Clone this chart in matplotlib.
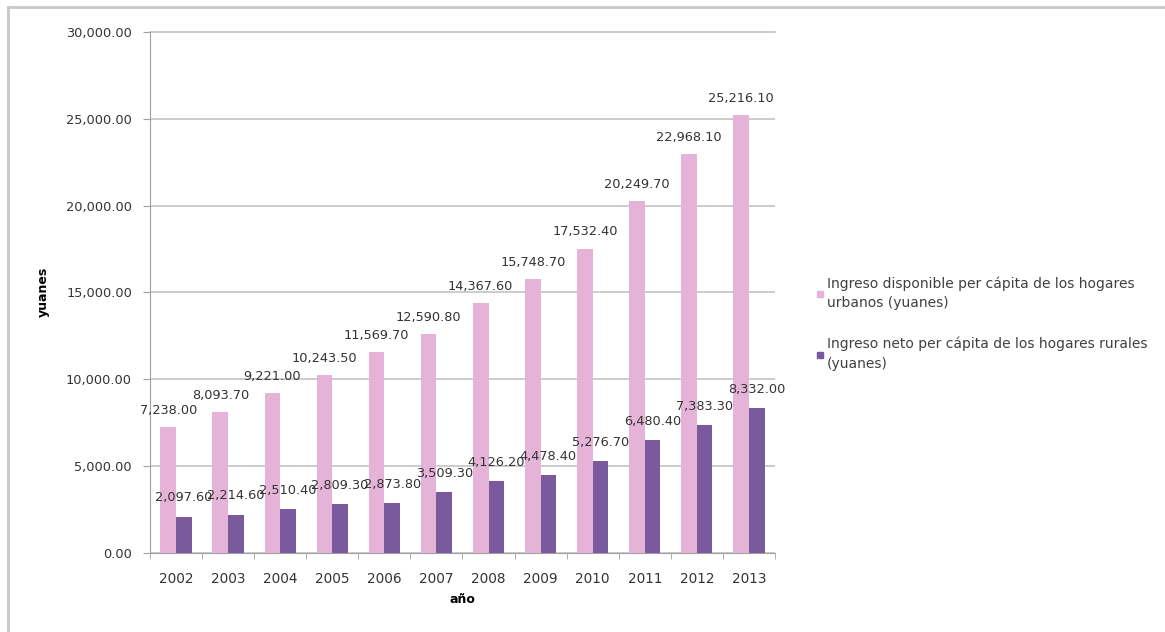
import matplotlib
matplotlib.use("Agg")
import matplotlib.pyplot as plt
from matplotlib.lines import Line2D
from matplotlib.ticker import FuncFormatter
import numpy as np

years = ["2002", "2003", "2004", "2005", "2006", "2007", "2008", "2009", "2010", "2011", "2012", "2013"]
urbano = [7238.0, 8093.7, 9221.0, 10243.5, 11569.7, 12590.8, 14367.6, 15748.7, 17532.4, 20249.7, 22968.1, 25216.1]
rural = [2097.6, 2214.6, 2510.4, 2809.3, 2873.8, 3509.3, 4126.2, 4478.4, 5276.7, 6480.4, 7383.3, 8332.0]
labels = ["Ingreso disponible per cápita de los hogares\nurbanos (yuanes)",
          "Ingreso neto per cápita de los hogares rurales\n(yuanes)"]

plt.rcParams['font.family'] = ['DejaVu Sans']
W, H = 1165, 632
fig = plt.figure(figsize=(W / 100, H / 100), dpi=100)
ax = fig.add_axes([150 / W, 1 - 553 / H, (775 - 150) / W, (553 - 32) / H])

pink = "#E6B3D8"
purple = "#7A5A9C"
txt = "#333333"
x = np.arange(len(years))
bw = 0.3
ax.bar(x - bw / 2, urbano, width=bw, color=pink, zorder=3)
ax.bar(x + bw / 2, rural, width=bw, color=purple, zorder=3)

fmt = lambda v: f"{v:,.2f}"
for xi, v in zip(x - bw / 2, urbano):
    ax.annotate(fmt(v), (xi, v), xytext=(0, 12), textcoords="offset points",
                ha="center", va="center", fontsize=9.3, color=txt, zorder=5)
for xi, v in zip(x + bw / 2, rural):
    ax.annotate(fmt(v), (xi, v), xytext=(0, 13.5), textcoords="offset points",
                ha="center", va="center", fontsize=9.3, color=txt, zorder=5)

ax.set_xlim(-0.5, len(years) - 0.5)
ax.set_ylim(0, 30000)
ax.set_yticks(np.arange(0, 30001, 5000))
ax.yaxis.set_major_formatter(FuncFormatter(lambda v, p: f"{v:,.2f}"))
ax.set_xticks(x)
ax.set_xticklabels(years)
ax.set_xticks(np.arange(-0.5, len(years), 1), minor=True)
ax.tick_params(axis="x", which="major", length=0, labelsize=9.8, colors=txt, pad=14)
ax.tick_params(axis="x", which="minor", length=4, color="#A0A0A0", direction="out")
ax.tick_params(axis="y", length=5, color="#A0A0A0", labelsize=9.3, labelcolor=txt, pad=8)
ax.grid(axis="y", color="#C4C4C4", linewidth=1.2, zorder=0)
ax.get_ygridlines()[-1].set_clip_on(False)
for s in ["top", "right"]:
    ax.spines[s].set_visible(False)
ax.spines["left"].set_color("#A0A0A0")
ax.spines["bottom"].set_color("#A0A0A0")

ax.set_xlabel("año", fontsize=9, fontweight="bold", labelpad=5)
fig.text(43 / W, 1 - 292 / H, "yuanes", rotation=90, ha="center", va="center",
         fontsize=9, fontweight="bold")

handles = [Line2D([], [], marker="s", color=pink, linestyle="none", markersize=5),
           Line2D([], [], marker="s", color=purple, linestyle="none", markersize=5)]
leg = fig.legend(handles, labels, loc="upper left", bbox_to_anchor=(803 / W, 1 - 264 / H),
                 frameon=False, fontsize=10, handlelength=0.6, handletextpad=0.2,
                 labelspacing=1.9, labelcolor="#404040")
for t in leg.get_texts():
    t.set_linespacing(1.5)

fig.add_artist(Line2D([8 / W, 1], [1 - 7 / H, 1 - 7 / H], color="#C8C8C8", linewidth=2))
fig.add_artist(Line2D([8 / W, 8 / W], [0, 1 - 7 / H], color="#C8C8C8", linewidth=2))

fig.savefig("out.png", dpi=100)
